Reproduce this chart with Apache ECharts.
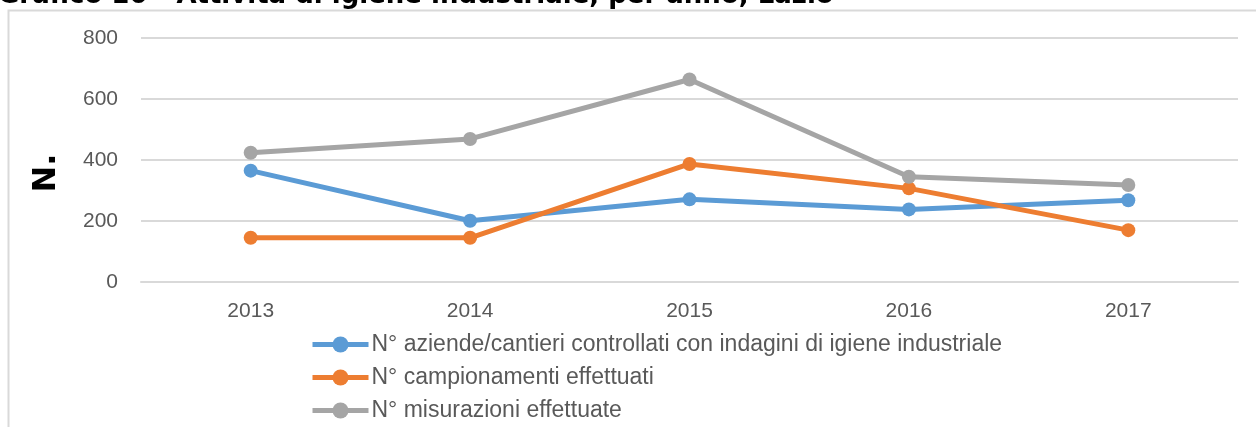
<!DOCTYPE html>
<html>
<head>
<meta charset="utf-8">
<title>Grafico 10</title>
<script src="https://cdn.jsdelivr.net/npm/echarts@6/dist/echarts.min.js"></script>
<style>
    html, body { margin: 0; padding: 0; background: #fff; }
    #main { width: 1256px; height: 427px; }
</style>
</head>
<body>
<div id="main"></div>
<script>
// dati
var anni = ['2013', '2014', '2015', '2016', '2017'];
var nomiSerie = [
    'N° aziende/cantieri controllati con indagini di igiene industriale',
    'N° campionamenti effettuati',
    'N° misurazioni effettuate'
];
var aziende = [365, 201, 271, 238, 268];
var campionamenti = [145, 145, 387, 307, 170];
var misurazioni = [424, 469, 664, 345, 318];
var tickY = [0, 200, 400, 600, 800];
var colori = ['#5b9bd5', '#ed7d31', '#a5a5a5'];

var font = 'Liberation Sans';

var serie = function (nome, dati, colore) {
    return {
        name: nome,
        type: 'line',
        data: dati,
        symbol: 'circle',
        symbolSize: 14,
        color: colore,
        lineStyle: { width: 5, color: colore },
        itemStyle: { color: colore },
        emphasis: { disabled: true }
    };
};

var myChart = echarts.init(document.getElementById('main'));
myChart.setOption({
    animation: false,
    graphic: [
        {   // cornice del grafico
            type: 'rect',
            shape: { x: 8.5, y: 10.5, width: 1400, height: 600 },
            style: { fill: 'none', stroke: '#d9d9d9', lineWidth: 2 }
        },
        {   // titolo tagliato in alto
            type: 'text',
            left: -2,
            top: -17,
            style: {
                text: 'Grafico 10 - Attività di igiene industriale, per anno, Lazio',
                font: 'bold 26px "DejaVu Sans"',
                fill: '#000'
            }
        },
        {   // nome asse Y
            type: 'text',
            x: 47,
            y: 173,
            rotation: Math.PI / 2,
            style: {
                text: 'N.',
                font: 'bold 32px "DejaVu Sans"',
                fill: '#000',
                align: 'center',
                verticalAlign: 'middle'
            }
        }
    ],
    grid: {
        left: 141,
        right: 18,
        top: 38,
        height: 244
    },
    legend: {
        orient: 'vertical',
        left: 310,
        top: 333,
        height: 140,
        padding: 0,
        itemWidth: 56,
        itemHeight: 20,
        itemGap: 10,
        lineStyle: { width: 5 },
        itemStyle: { borderWidth: 0 },
        textStyle: { fontFamily: font, fontSize: 23, color: '#595959', padding: [0, 0, 0, -2] },
        data: nomiSerie
    },
    xAxis: {
        type: 'category',
        data: anni,
        boundaryGap: true,
        axisLine: { lineStyle: { color: '#d9d9d9', width: 2 } },
        axisTick: { show: false },
        axisLabel: { fontFamily: font, fontSize: 21, color: '#595959', margin: 19 }
    },
    yAxis: {
        type: 'value',
        min: tickY[0],
        max: tickY[tickY.length - 1],
        interval: 200,
        axisLine: { show: false },
        axisTick: { show: false },
        splitLine: { lineStyle: { color: '#d9d9d9', width: 2 } },
        axisLabel: { fontFamily: font, fontSize: 21, color: '#595959', margin: 23 }
    },
    series: [
        serie(nomiSerie[0], aziende, colori[0]),
        serie(nomiSerie[1], campionamenti, colori[1]),
        serie(nomiSerie[2], misurazioni, colori[2])
    ]
});
</script>
</body>
</html>
